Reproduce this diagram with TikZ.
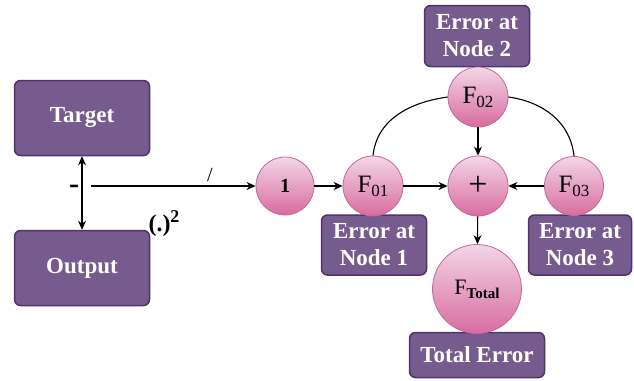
\documentclass[tikz,border=0pt]{standalone}
\usepackage{fontspec}
\setmainfont{Liberation Serif}
\usetikzlibrary{arrows.meta}
\definecolor{boxfill}{HTML}{765C8E}
\definecolor{boxedge}{HTML}{4E3468}
\definecolor{circtop}{HTML}{F3D6E6}
\definecolor{circbot}{HTML}{D86C9F}
\definecolor{circedge}{HTML}{C4689A}
\tikzset{
  pbox/.style={draw=boxedge, line width=1.5pt, fill=boxfill, rounded corners=6pt,
    text=white, font=\fontsize{23}{27}\selectfont\bfseries, align=center, inner sep=0pt},
  pcirc/.style={circle, draw=circedge, line width=0.8pt, top color=circtop, bottom color=circbot,
    inner sep=0pt, font=\fontsize{25}{28}\selectfont},
  conn/.style={line width=1.1pt, -{Stealth[length=9pt,width=8pt]}},
  arcline/.style={line width=1.1pt}
}
\begin{document}
\begin{tikzpicture}[x=1pt,y=-1pt]
\useasboundingbox (0,0) rectangle (634,380);
% boxes
\node[pbox, minimum width=135pt, minimum height=75pt] (target) at (82,118) {Target};
\node[pbox, minimum width=135pt, minimum height=75pt] (output) at (82,268) {Output};
\node[pbox, minimum width=105pt, minimum height=61pt] (e2) at (477,36) {Error at\\Node 2};
\node[pbox, minimum width=105pt, minimum height=60pt] (e1) at (374,245) {Error at\\Node 1};
\node[pbox, minimum width=103pt, minimum height=60pt] (e3) at (580,245) {Error at\\Node 3};
\node[pbox, minimum width=135pt, minimum height=45pt] (te) at (477,355) {Total Error};
% circles
\node[pcirc, minimum size=58pt, font=\fontsize{20}{24}\selectfont\bfseries] (one) at (285,186) {1};
\node[pcirc, minimum size=60pt] (f01) at (373,186) {F\raisebox{-4pt}{\fontsize{17}{18}\selectfont 01}};
\node[pcirc, minimum size=60pt] (f02) at (478,97) {F\raisebox{-4pt}{\fontsize{17}{18}\selectfont 02}};
\node[pcirc, minimum size=60pt, font=\fontsize{34}{34}\selectfont] (plus) at (478,186) {+};
\node[pcirc, minimum size=59pt] (f03) at (574,186) {F\raisebox{-4pt}{\fontsize{17}{18}\selectfont 03}};
\node[pcirc, minimum size=89pt, font=\fontsize{22}{24}\selectfont] (ft) at (477,289) {F\raisebox{-4pt}{\fontsize{15}{18}\selectfont\bfseries Total}};
% connectors
\draw[line width=1.1pt, {Stealth[length=9pt,width=8pt]}-{Stealth[length=9pt,width=8pt]}] (target.south) -- (output.north);
\coordinate (start) at (91,186);
\draw[conn] (start) -- (one.west);
\draw[conn] (one) -- (f01);
\draw[conn] (f01) -- (plus);
\draw[conn] (f03) -- (plus);
\draw[conn] (f02) -- (plus);
\draw[conn] (plus) -- (ft);
\draw[arcline] (f01.north) to[out=84, in=188] (f02.west);
\draw[arcline] (f02.east) to[out=-8, in=96] (f03.north);
% labels
\node[font=\fontsize{30}{30}\selectfont\bfseries] (minus) at (74,189) {-};
\node[font=\fontsize{20}{20}\selectfont] (slash) at (210,175) {/};
\node[font=\fontsize{24}{24}\selectfont\bfseries, inner sep=0pt] (sq) at (164,224) {(.)\raisebox{9pt}{\fontsize{18}{18}\selectfont 2}};
\end{tikzpicture}
\end{document}
